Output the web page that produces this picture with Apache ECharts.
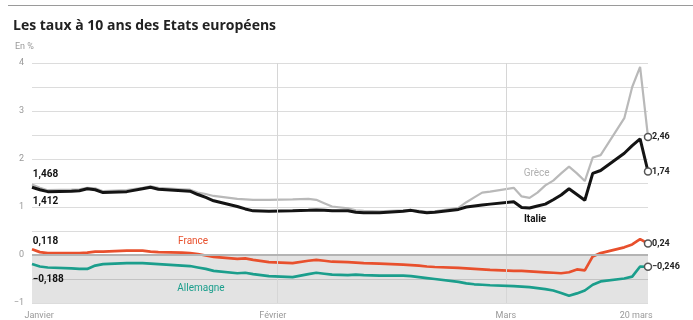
<!DOCTYPE html>
<html><head><meta charset="utf-8">
<script src="https://cdn.jsdelivr.net/npm/echarts@6/dist/echarts.min.js"></script>
<style>html,body{margin:0;padding:0;background:#fff}#c{width:693px;height:320px}</style>
</head><body><div id="c"></div>
<script>
// day index from 1 January 2020 (0 = 1 Jan, 31 = 1 Feb, 60 = 1 Mar)
const days = [0,1,2,5,6,7,8,9,12,14,15,16,19,20,21,22,23,26,27,28,30,33,35,36,37,38,40,41,42,44,47,48,49,50,51,54,55,56,57,58,61,62,63,64,65,66,67,68,69,70,71,72,75,76,77,78];
const greece = [1.468,1.40,1.35,1.36,1.37,1.40,1.39,1.33,1.35,1.40,1.43,1.40,1.37,1.36,1.30,1.27,1.23,1.17,1.16,1.15,1.15,1.16,1.17,1.15,1.08,1.01,0.97,0.93,0.92,0.91,0.93,0.94,0.92,0.90,0.91,0.98,1.10,1.20,1.30,1.32,1.40,1.22,1.19,1.30,1.45,1.55,1.70,1.84,1.70,1.54,2.03,2.08,2.85,3.50,3.92,2.46];
const italy = [1.412,1.36,1.32,1.33,1.34,1.38,1.36,1.30,1.32,1.38,1.41,1.37,1.34,1.33,1.26,1.20,1.13,1.01,0.96,0.92,0.91,0.92,0.93,0.94,0.93,0.92,0.92,0.89,0.88,0.88,0.91,0.93,0.90,0.88,0.89,0.95,1.00,1.02,1.04,1.06,1.11,0.99,0.98,1.02,1.06,1.15,1.25,1.38,1.26,1.14,1.70,1.76,2.12,2.28,2.42,1.74];
const france = [0.118,0.06,0.04,0.04,0.04,0.05,0.07,0.07,0.09,0.09,0.07,0.06,0.05,0.04,0.02,-0.01,-0.04,-0.08,-0.07,-0.10,-0.15,-0.17,-0.12,-0.10,-0.12,-0.14,-0.15,-0.16,-0.17,-0.18,-0.20,-0.21,-0.22,-0.24,-0.25,-0.27,-0.28,-0.29,-0.30,-0.31,-0.33,-0.33,-0.34,-0.35,-0.36,-0.37,-0.38,-0.36,-0.30,-0.32,-0.03,0.04,0.16,0.22,0.33,0.24];
const germany = [-0.188,-0.24,-0.26,-0.28,-0.29,-0.29,-0.22,-0.19,-0.17,-0.17,-0.18,-0.19,-0.22,-0.23,-0.26,-0.29,-0.33,-0.38,-0.37,-0.40,-0.44,-0.46,-0.40,-0.37,-0.39,-0.41,-0.42,-0.41,-0.42,-0.43,-0.43,-0.44,-0.46,-0.48,-0.50,-0.56,-0.59,-0.61,-0.62,-0.63,-0.65,-0.66,-0.67,-0.69,-0.71,-0.74,-0.79,-0.85,-0.80,-0.74,-0.62,-0.55,-0.49,-0.45,-0.24,-0.246];
const seriesNames = ['Grèce','Italie','France','Allemagne'];
const xLabelValues = [0.9, 30.5, 60, 76.5];
const xLabelTexts = ['Janvier','Février','Mars','20 mars'];
const monthStarts = [31, 60];
const yLabelValues = [-1, 0, 1, 2, 3, 4];

const fmt = v => (v < 0 ? '\u2212' : '') + String(Math.abs(v)).replace('.', ',');
const last = days.length - 1;

function mk(name, vals, color, width, z, extra) {
  return Object.assign({
    name, type: 'line', z,
    data: days.map((d, i) => [d, vals[i]]),
    showSymbol: true,
    symbol: (v, p) => p.dataIndex === last ? 'circle' : 'none',
    symbolSize: 7,
    itemStyle: { color: '#fff', borderColor: '#555', borderWidth: 1.5 },
    lineStyle: { color, width },
    endLabel: { show: true, formatter: p => fmt(p.value[1]), color: '#222', fontSize: 9, fontWeight: 'bold', distance: 4, fontFamily: 'Roboto' },
    emphasis: { disabled: true },
    silent: true
  }, extra || {});
}
function ann(coord, text, style) {
  return { coord, symbol: 'circle', symbolSize: 0, itemStyle: { color: 'transparent' },
    label: Object.assign({ show: true, formatter: text, fontFamily: 'Roboto', fontSize: 10 }, style) };
}
const startStyle = { position: 'right', distance: 0, color: '#111', fontWeight: 'bold', fontSize: 10 };

const chart = echarts.init(document.getElementById('c'), null, { renderer: 'canvas' });
chart.setOption({
  animation: false,
  textStyle: { fontFamily: 'Roboto' },
  title: [
    { text: 'Les taux à 10 ans des Etats européens', left: 8, top: 14, textStyle: { fontSize: 14, fontWeight: 'bold', color: '#222', fontFamily: 'Open Sans' } },
    { text: 'En %', left: 10, top: 37, textStyle: { fontSize: 9, fontWeight: 'normal', color: '#999', fontFamily: 'Roboto' } }
  ],
  graphic: [{ type: 'rect', shape: { x: 8, y: 5, width: 685, height: 1 }, style: { fill: '#9a9a9a' }, silent: true }],
  grid: { left: 32, right: 45, top: 63, bottom: 17 },
  xAxis: {
    type: 'value', min: 0, max: 78,
    axisLine: { show: false }, axisTick: { show: false }, splitLine: { show: false },
    axisLabel: { customValues: xLabelValues, formatter: v => xLabelTexts[xLabelValues.indexOf(v)] || '', color: '#999', fontSize: 9, margin: 8 }
  },
  yAxis: {
    type: 'value', min: -1, max: 4, interval: 0.5,
    axisLine: { show: false }, axisTick: { show: false },
    splitLine: { lineStyle: { color: '#dcdcdc', width: 1 } },
    axisLabel: { formatter: v => yLabelValues.includes(v) ? fmt(v) : '', color: '#999', fontSize: 9, margin: 8 }
  },
  series: [
    mk(seriesNames[0], greece, '#b9b9b9', 2.2, 2, {
      markArea: { silent: true, itemStyle: { color: 'rgba(0,0,0,0.11)' }, data: [[{ yAxis: -1 }, { yAxis: 0 }]] },
      markLine: { silent: true, symbol: ['none', 'none'], label: { show: false },
        data: monthStarts.map(m => ({ xAxis: m, lineStyle: { color: '#d6d6d6', width: 1, type: 'solid' } }))
          .concat([{ yAxis: 0, lineStyle: { color: '#b4b4b4', width: 2, type: 'solid' } }]) },
      markPoint: { silent: true, data: [
        ann([63.9, 1.69], seriesNames[0], { color: '#b0b0b0', fontSize: 10 }),
        ann([0.1, 1.667], fmt(greece[0]), startStyle)
      ] }
    }),
    mk(seriesNames[1], italy, '#141414', 3, 3, {
      markPoint: { silent: true, data: [
        ann([63.7, 0.75], seriesNames[1], { color: '#141414', fontWeight: 'bold', fontSize: 10 }),
        ann([0.1, 1.125], fmt(italy[0]), startStyle)
      ] }
    }),
    mk(seriesNames[2], france, '#e8502d', 2.7, 4, {
      markPoint: { silent: true, data: [
        ann([20.4, 0.29], seriesNames[2], { color: '#e8502d', fontSize: 10 }),
        ann([0.1, 0.29], fmt(france[0]), startStyle)
      ] }
    }),
    mk(seriesNames[3], germany, '#1b9e8c', 2.7, 5, {
      markPoint: { silent: true, data: [
        ann([21.4, -0.69], seriesNames[3], { color: '#1b9e8c', fontSize: 10 }),
        ann([0.1, -0.52], fmt(germany[0]), startStyle)
      ] }
    })
  ]
});
</script></body></html>
